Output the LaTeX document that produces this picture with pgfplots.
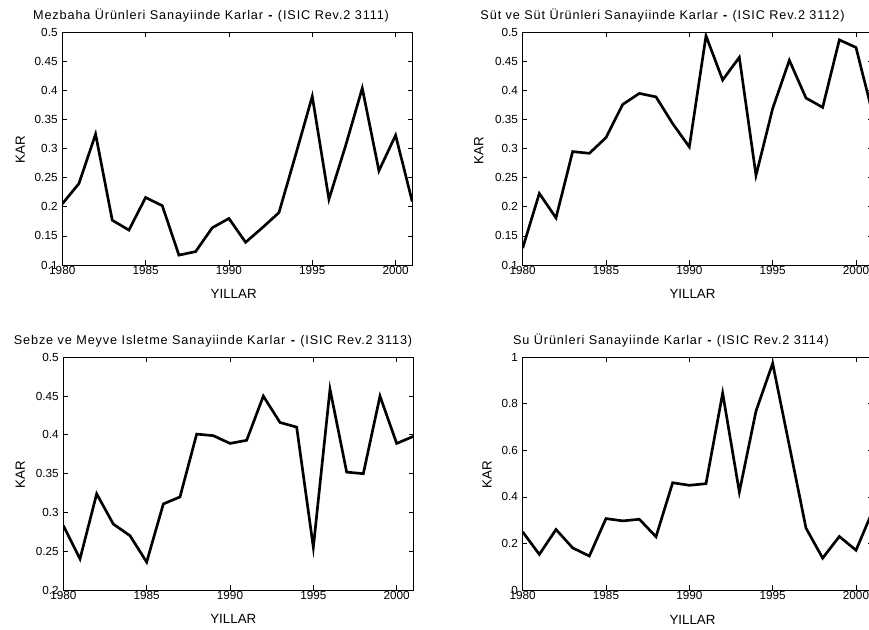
\documentclass[border=0pt]{standalone}
\usepackage{fontspec}
\setmainfont{Liberation Sans}
\newfontfamily\titlefam[LetterSpace=7]{Liberation Sans}
\usepackage{pgfplots}
\pgfplotsset{compat=1.18}

% one panel, MATLAB look: box, ticks inside on all four sides
\pgfplotsset{
  karstyle/.style={
    scale only axis,
    width=262.5pt, height=174.5pt,
    anchor=south west,
    xmin=1980, xmax=2001,
    xtick={1980,1985,1990,1995,2000},
    tick align=inside,
    xtick pos=both, ytick pos=both,
    major tick length=3.5pt,
    axis line style={line width=0.7pt},
    tick style={line width=0.6pt, black},
    ticklabel style={font=\fontsize{8.8}{10}\selectfont},
    xticklabel style={inner sep=1pt},
    /pgf/number format/assume math mode=true,
    /pgf/number format/1000 sep={},
    every axis plot post/.append style={black, line width=2pt, mark=none},
  },
}
\newcommand{\titlefont}{\titlefam\fontsize{9.5}{11}\selectfont}
\newcommand{\labfont}{\fontsize{10}{12}\selectfont}

\begin{document}
\begin{tikzpicture}

% Mezbaha (3111)
\begin{axis}[karstyle, at={(46.7pt,-198.75pt)},
  ymin=0.1, ymax=0.5, ytick={0.1,0.15,0.2,0.25,0.3,0.35,0.4,0.45,0.5}]
\addplot coordinates {
(1980,0.205)(1981,0.240)(1982,0.325)(1983,0.177)(1984,0.160)(1985,0.216)
(1986,0.202)(1987,0.117)(1988,0.123)(1989,0.164)(1990,0.180)(1991,0.139)
(1992,0.164)(1993,0.190)(1994,0.289)(1995,0.390)(1996,0.213)(1997,0.305)
(1998,0.404)(1999,0.262)(2000,0.323)(2001,0.209)
};
\end{axis}

% Sut (3112)
\begin{axis}[karstyle, at={(392pt,-198.75pt)},
  ymin=0.1, ymax=0.5, ytick={0.1,0.15,0.2,0.25,0.3,0.35,0.4,0.45,0.5}]
\addplot coordinates {
(1980,0.129)(1981,0.223)(1982,0.181)(1983,0.295)(1984,0.292)(1985,0.319)
(1986,0.376)(1987,0.395)(1988,0.389)(1989,0.343)(1990,0.303)(1991,0.494)
(1992,0.418)(1993,0.457)(1994,0.254)(1995,0.369)(1996,0.452)(1997,0.387)
(1998,0.371)(1999,0.487)(2000,0.474)(2001,0.360)
};
\end{axis}

% Sebze ve Meyve (3113)
\begin{axis}[karstyle, at={(47.5pt,-442.5pt)},
  ymin=0.2, ymax=0.5, ytick={0.2,0.25,0.3,0.35,0.4,0.45,0.5}]
\addplot coordinates {
(1980,0.283)(1981,0.240)(1982,0.324)(1983,0.285)(1984,0.270)(1985,0.236)
(1986,0.311)(1987,0.320)(1988,0.401)(1989,0.399)(1990,0.389)(1991,0.393)
(1992,0.450)(1993,0.416)(1994,0.410)(1995,0.255)(1996,0.459)(1997,0.352)
(1998,0.350)(1999,0.450)(2000,0.389)(2001,0.398)
};
\end{axis}

% Su Urunleri (3114)
\begin{axis}[karstyle, at={(392pt,-442.5pt)},
  ymin=0, ymax=1, ytick={0,0.2,0.4,0.6,0.8,1}]
\addplot coordinates {
(1980,0.250)(1981,0.153)(1982,0.260)(1983,0.181)(1984,0.146)(1985,0.307)
(1986,0.297)(1987,0.304)(1988,0.229)(1989,0.461)(1990,0.450)(1991,0.457)
(1992,0.846)(1993,0.421)(1994,0.769)(1995,0.974)(1996,0.620)(1997,0.266)
(1998,0.137)(1999,0.230)(2000,0.171)(2001,0.340)
};
\end{axis}

% titles and labels, placed in reference pixels (y downwards)
\begin{scope}[x=0.75pt, y=-0.75pt]
\node[anchor=base, font=\titlefont, inner sep=0pt] at (211,20)
  {Mezbaha Ürünleri Sanayiinde Karlar \textbf{-} (ISIC Rev.2 3111)};
\node[anchor=base, font=\titlefont, inner sep=0pt] at (662.5,20)
  {Süt ve Süt Ürünleri Sanayiinde Karlar \textbf{-} (ISIC Rev.2 3112)};
\node[anchor=base, font=\titlefont, inner sep=0pt] at (213,345)
  {Sebze ve Meyve Isletme Sanayiinde Karlar \textbf{-} (ISIC Rev.2 3113)};
\node[anchor=base, font=\titlefont, inner sep=0pt] at (671,345)
  {Su Ürünleri Sanayiinde Karlar \textbf{-} (ISIC Rev.2 3114)};

\node[anchor=base, font=\labfont, inner sep=0pt] at (233.7,299) {YILLAR};
\node[anchor=base, font=\labfont, inner sep=0pt] at (692.5,299) {YILLAR};
\node[anchor=base, font=\labfont, inner sep=0pt] at (233.3,624) {YILLAR};
\node[anchor=base, font=\labfont, inner sep=0pt] at (692.5,625) {YILLAR};

\node[anchor=base, rotate=90, font=\labfont, inner sep=0pt] at (25,150) {KAR};
\node[anchor=base, rotate=90, font=\labfont, inner sep=0pt] at (483.3,151) {KAR};
\node[anchor=base, rotate=90, font=\labfont, inner sep=0pt] at (25,475) {KAR};
\node[anchor=base, rotate=90, font=\labfont, inner sep=0pt] at (491.7,475) {KAR};
\end{scope}

% the reference is cut just short of the right panels' right edge
\pgfresetboundingbox
\useasboundingbox (0,0) rectangle (651.75pt,-472.5pt);
\end{tikzpicture}
\end{document}
